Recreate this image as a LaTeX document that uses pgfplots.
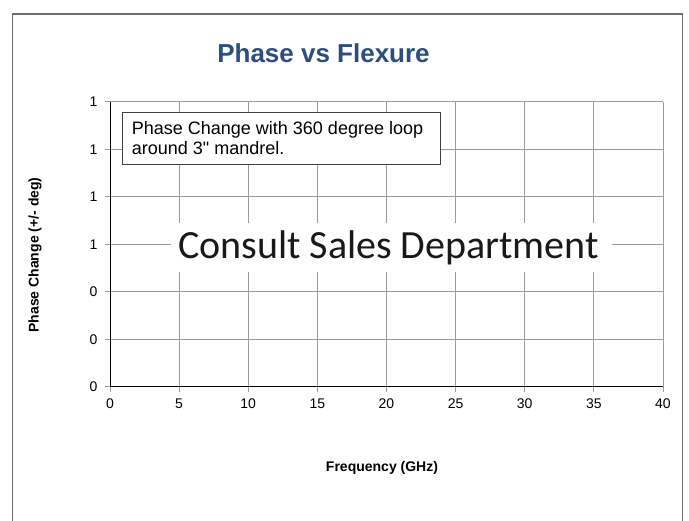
\documentclass[border=0pt]{standalone}
\usepackage{fontspec}
\setmainfont{Liberation Sans}
\newfontfamily\carlito{Carlito}
\usepackage{pgfplots}
\pgfplotsset{compat=1.18}

\definecolor{titleblue}{RGB}{44,77,127}
\definecolor{gridgray}{RGB}{155,155,155}
\definecolor{framegray}{RGB}{110,110,110}
\definecolor{boxgray}{RGB}{64,64,64}

\begin{document}
\begin{tikzpicture}[x=1pt,y=1pt]
\useasboundingbox (0,0) rectangle (689,521);
% outer chart frame (bottom edge is cut off)
\draw[framegray, line width=1.3pt] (12.5,0) -- (12.5,507) -- (682.7,507) -- (682.7,0);

\begin{axis}[
    at={(110pt,134pt)}, anchor=south west,
    scale only axis,
    width=553pt, height=285pt,
    xmin=0, xmax=40, ymin=0, ymax=1.2,
    xtick={0,5,...,40},
    ytick={0,0.2,0.4,0.6,0.8,1.0,1.2},
    yticklabels={0,0,0,1,1,1,1},
    axis lines*=left,
    axis line style={black, line width=1pt},
    tick align=outside,
    major tick length=5pt,
    tick style={gridgray, line width=1pt},
    grid=major,
    major grid style={gridgray, line width=1pt},
    ticklabel style={font=\fontsize{14}{16}\selectfont},
    /pgf/number format/assume math mode=true,
    yticklabel style={xshift=-4pt},
    xticklabel style={yshift=-3pt},
]
\end{axis}

% title and axis titles
\node[anchor=base, font=\fontsize{26}{28}\selectfont\bfseries, text=titleblue] at (323.5,458) {Phase vs Flexure};
\node[anchor=center, font=\fontsize{14}{16}\selectfont\bfseries] at (382,53) {Frequency (GHz)};
\node[anchor=center, rotate=90, font=\fontsize{14}{16}\selectfont\bfseries] at (35,266) {Phase Change (+/- deg)};

% note box
\draw[boxgray, fill=white, line width=1pt] (122,408) rectangle (440,356);
\node[anchor=base west, font=\fontsize{18}{20}\selectfont, inner sep=0pt] at (131.7,386) {Phase Change with 360 degree loop};
\node[anchor=base west, font=\fontsize{18}{20}\selectfont, inner sep=0pt] at (131.7,366) {around 3\textquotedbl{} mandrel.};

% centre notice
\fill[white] (171,298) rectangle (612,249);
\node[anchor=base, font=\carlito\fontsize{40}{42}\selectfont, text={black!90}, inner sep=0pt] at (388.5,262) {Consult Sales Department};
\end{tikzpicture}
\end{document}
